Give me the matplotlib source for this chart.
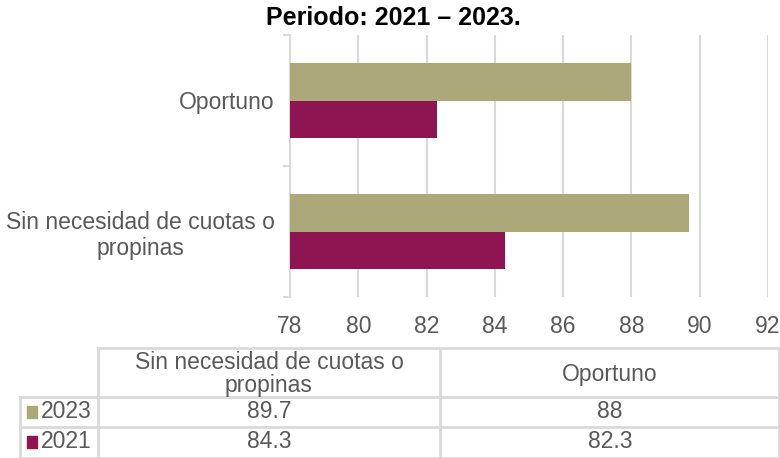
import matplotlib.pyplot as plt
import numpy as np

plt.rcParams['font.family'] = ['Liberation Sans', 'DejaVu Sans']

# data
categories = ["Sin necesidad de cuotas o\npropinas", "Oportuno"]
years = ["2023", "2021"]
values_2023 = [89.7, 88]
values_2021 = [84.3, 82.3]
table_2023 = ["89.7", "88"]
table_2021 = ["84.3", "82.3"]
xticks = [78, 80, 82, 84, 86, 88, 90, 92]

c2023 = "#ADA87A"
c2021 = "#8E1552"
grid_c = "#D9D9D9"
txt_c = "#595959"
fs = 16.5

W, H = 780, 458
fig = plt.figure(figsize=(W / 100, H / 100), dpi=100)

def fx(px):
    return px / W

def fy(py):
    return 1 - py / H

ax = fig.add_axes([fx(290), fy(297), fx(768) - fx(290), fy(35) - fy(297)])

y = np.arange(len(categories))
h = 0.29
ax.barh(y + h / 2, values_2023, height=h, color=c2023, zorder=3)
ax.barh(y - h / 2, values_2021, height=h, color=c2021, zorder=3)

ax.set_xlim(78, 92)
ax.set_ylim(-0.5, 1.5)
ax.set_xticks(xticks)
ax.set_xticklabels([str(t) for t in xticks], fontsize=fs, color=txt_c)
ax.tick_params(axis='x', length=0, pad=13)
ax.grid(axis='x', color=grid_c, linewidth=1.5, zorder=0)

ax.set_yticks([-0.5, 0.5, 1.5])
ax.set_yticklabels([])
ax.set_yticks(y, minor=True)
ax.set_yticklabels(categories, minor=True, fontsize=fs, color=txt_c, ha='right',
                   multialignment='center', linespacing=1.15)
ax.tick_params(axis='y', which='major', length=5, color=grid_c, width=1.5)
ax.tick_params(axis='y', which='minor', length=0, pad=11)

for s in ['top', 'right', 'bottom']:
    ax.spines[s].set_visible(False)
ax.spines['left'].set_color(grid_c)
ax.spines['left'].set_linewidth(1.5)

fig.text(fx(393), fy(18), "Periodo: 2021 \u2013 2023.", ha='center', va='center',
         fontsize=18, fontweight='bold', color='black')

# data table below
def hline(y0, x0, x1):
    fig.add_artist(plt.Line2D([fx(x0), fx(x1)], [fy(y0), fy(y0)], color=grid_c, lw=2))

def vline(x0, y0, y1):
    fig.add_artist(plt.Line2D([fx(x0), fx(x0)], [fy(y0), fy(y1)], color=grid_c, lw=2))

hline(348, 98, 780)
hline(397, 20, 780)
hline(427, 20, 780)
hline(458, 20, 780)
vline(98, 348, 458)
vline(440, 348, 458)
vline(20, 397, 458)
vline(779, 348, 458)

col_x = [269, 610]
for cx, cat in zip(col_x, categories):
    fig.text(fx(cx), fy(374), cat, ha='center', va='center', fontsize=fs,
             color=txt_c, linespacing=0.95)

rows = [(table_2023, c2023, "2023", 412), (table_2021, c2021, "2021", 442)]
for vals, col, lab, ry in rows:
    fig.add_artist(plt.Rectangle((fx(27), fy(ry + 6)), fx(10), fy(ry - 6) - fy(ry + 6),
                                 color=col, transform=fig.transFigure))
    fig.text(fx(41), fy(ry), lab, ha='left', va='center', fontsize=fs, color=txt_c)
    for cx, v in zip(col_x, vals):
        fig.text(fx(cx), fy(ry), v, ha='center', va='center', fontsize=fs, color=txt_c)

fig.savefig("out.png", dpi=100)
